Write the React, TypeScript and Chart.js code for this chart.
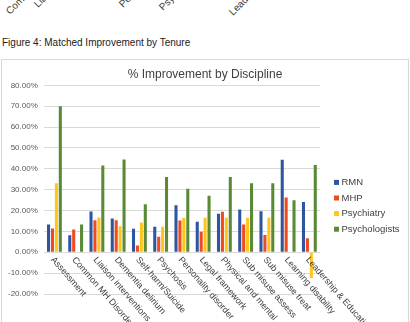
import React, { useEffect, useRef } from 'react';
import { Chart, registerables } from 'chart.js';

Chart.register(...registerables);

const categories = [
  'Assessment',
  'Common MH Disorders',
  'Liaison interventions',
  'Dementia delirium',
  'Self-harm/Suicide',
  'Psychosis',
  'Personality disorder',
  'Legal framework',
  'Physical and mental',
  'Sub misuse assess',
  'Sub misuse treat',
  'Learning disability',
  'Leadership & Education',
];

const rmn = [13.3, 8.2, 19.6, 16.2, 11.3, 12.2, 22.6, 14.6, 18.5, 20.5, 19.7, 44.3, 24.1];
const mhp = [11.4, 10.9, 15.3, 15.3, 3.2, 7.5, 15.2, 9.8, 19.4, 13.3, 8.3, 26.3, 6.7];
const psychiatry = [33.1, 0, 16.7, 12.5, 14.3, 12.2, 16.5, 16.5, 16.5, 16.5, 16.5, 0, -12.3];
const psychologists = [70.0, 13.3, 41.6, 44.5, 23.0, 36.1, 30.5, 27.1, 36.1, 33.1, 33.1, 24.9, 41.8];

const seriesNames = ['RMN', 'MHP', 'Psychiatry', 'Psychologists'];
const seriesColors = ['#2F55A0', '#EE4B1E', '#FFC61A', '#5A8A36'];

const yMin = -20;
const yMax = 80;
const yStep = 10;

const chartTitle = '% Improvement by Discipline';
const caption = 'Figure 4: Matched Improvement by Tenure';
const previousLabels = [
  { text: 'Common MH Disorders', x: 10, y: 15 },
  { text: 'Liaison interventions', x: 38, y: 8 },
  { text: 'Personality disorder', x: 123, y: 8 },
  { text: 'Psychosis', x: 163, y: 11 },
  { text: 'Leadership & Education', x: 233, y: 16 },
];

const FONT = '"Liberation Sans", Arial, sans-serif';

const centeredTitle = {
  id: 'centeredTitle',
  afterDraw(chart: any) {
    const ctx = chart.ctx;
    ctx.save();
    ctx.font = `12px ${FONT}`;
    ctx.fillStyle = '#404040';
    ctx.textAlign = 'center';
    ctx.textBaseline = 'middle';
    ctx.fillText(chartTitle, chart.width / 2, 15);
    ctx.restore();
  },
};

const rotatedLabels = {
  id: 'rotatedLabels',
  afterDraw(chart: any) {
    const xs = chart.scales.x;
    const ys = chart.scales.y;
    const ctx = chart.ctx;
    const y0 = ys.getPixelForValue(0);
    ctx.save();
    ctx.font = `9px ${FONT}`;
    ctx.fillStyle = '#404040';
    ctx.textAlign = 'left';
    ctx.textBaseline = 'middle';
    categories.forEach((c, i) => {
      const px = xs.getPixelForValue(i);
      ctx.save();
      ctx.translate(px - 2, y0 + 6);
      ctx.rotate((49 * Math.PI) / 180);
      ctx.fillText(c, 0, 0);
      ctx.restore();
    });
    ctx.restore();
  },
};

const sideLegend = {
  id: 'sideLegend',
  afterDraw(chart: any) {
    const ctx = chart.ctx;
    const area = chart.chartArea;
    const x = area.right + 14;
    const rowH = 15.6;
    const startY = area.top + 97;
    ctx.save();
    ctx.font = `9.5px ${FONT}`;
    ctx.textAlign = 'left';
    ctx.textBaseline = 'middle';
    chart.data.datasets.forEach((ds: any, i: number) => {
      const y = startY + i * rowH;
      ctx.fillStyle = ds.backgroundColor;
      ctx.fillRect(x, y - 2.5, 5, 5);
      ctx.fillStyle = '#404040';
      ctx.fillText(ds.label, x + 7.5, y);
    });
    ctx.restore();
  },
};

export default function App() {
  const canvasRef = useRef<HTMLCanvasElement | null>(null);

  useEffect(() => {
    const canvas = canvasRef.current;
    if (!canvas) return;
    const seriesData = [rmn, mhp, psychiatry, psychologists];
    const chart = new Chart(canvas, {
      type: 'bar',
      data: {
        labels: categories,
        datasets: seriesNames.map((name, i) => ({
          label: name,
          data: seriesData[i],
          backgroundColor: seriesColors[i],
          borderWidth: 0,
          categoryPercentage: 0.74,
          barPercentage: 0.78,
        })),
      },
      options: {
        animation: false,
        responsive: false,
        maintainAspectRatio: false,
        events: [],
        layout: { padding: { left: 0, right: 88, top: 25.4, bottom: 28 } },
        plugins: {
          legend: { display: false },
          tooltip: { enabled: false },
          title: { display: false },
        },
        scales: {
          x: {
            display: false,
          },
          y: {
            min: yMin,
            max: yMax,
            ticks: {
              stepSize: yStep,
              padding: 6,
              color: '#595959',
              font: { family: FONT, size: 8 },
              callback: (v: any) => Number(v).toFixed(2) + '%',
            },
            grid: { color: '#d9d9d9', drawTicks: false, lineWidth: 1 },
            border: { display: false },
          },
        },
      },
      plugins: [centeredTitle, rotatedLabels, sideLegend],
    });
    return () => chart.destroy();
  }, []);

  return (
    <div
      style={{
        position: 'fixed',
        left: 0,
        top: 0,
        width: 410,
        height: 322,
        background: '#fff',
        overflow: 'hidden',
        fontFamily: FONT,
      }}
    >
      {previousLabels.map((l) => (
        <span
          key={l.text}
          style={{
            position: 'absolute',
            left: l.x,
            top: l.y - 8,
            fontSize: 10,
            lineHeight: '10px',
            color: '#404040',
            whiteSpace: 'nowrap',
            transform: 'rotate(-45deg)',
            transformOrigin: '0px 8px',
          }}
        >
          {l.text}
        </span>
      ))}
      <div
        style={{
          position: 'absolute',
          left: 2,
          top: 37,
          fontSize: 10,
          lineHeight: '12px',
          color: '#222',
          whiteSpace: 'nowrap',
        }}
      >
        {caption}
      </div>
      <div
        style={{
          position: 'absolute',
          left: 1,
          top: 59,
          width: 406,
          height: 280,
          border: '1px solid #d9d9d9',
          boxSizing: 'content-box',
        }}
      >
        <canvas ref={canvasRef} width={406} height={262} style={{ display: 'block', width: 406, height: 262 }} />
      </div>
    </div>
  );
}
